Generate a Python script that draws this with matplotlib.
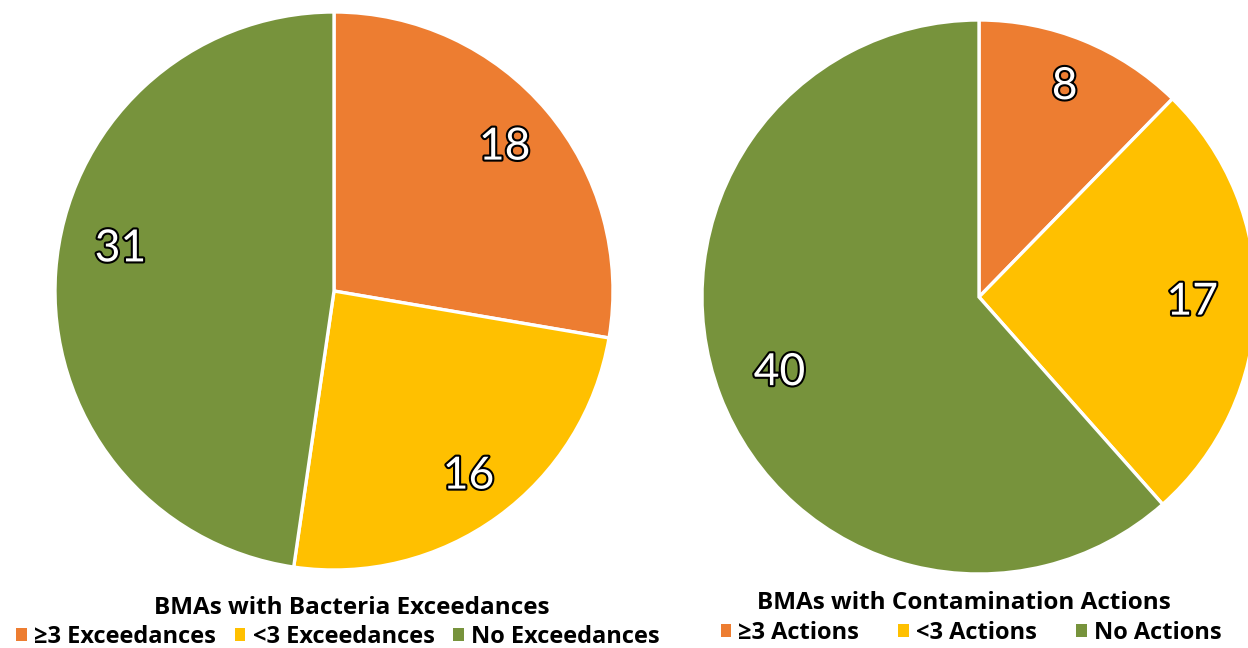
import matplotlib
matplotlib.use("Agg")
import numpy as np
import matplotlib.pyplot as plt
import matplotlib.patheffects as pe
from matplotlib.patches import Patch

plt.rcParams['font.family'] = ['Open Sans', 'DejaVu Sans']

colors = ['#ED7D31', '#FFC000', '#77933C']

left_labels = ['≥3 Exceedances', '<3 Exceedances', 'No Exceedances']
left_values = [18, 16, 31]
left_title = 'BMAs with Bacteria Exceedances'

right_labels = ['≥3 Actions', '<3 Actions', 'No Actions']
right_values = [8, 17, 40]
right_title = 'BMAs with Contamination Actions'

W, H = 1248, 648
fig = plt.figure(figsize=(W / 100, H / 100), dpi=100)


def add_pie(cx, cy, r, values, dists, rotate):
    ax = fig.add_axes([(cx - r) / W, (H - cy - r) / H, 2 * r / W, 2 * r / H])
    wedges, texts = ax.pie(values, colors=colors, startangle=90, counterclock=False,
                           radius=1, labels=[str(v) for v in values],
                           labeldistance=0.8,
                           wedgeprops=dict(edgecolor='white', linewidth=2.4),
                           textprops=dict(color='white', fontsize=32,
                                          ha='center', va='center',
                                          family=['Lato', 'DejaVu Sans']))
    for w, t, d, rot in zip(wedges, texts, dists, rotate):
        ang = np.deg2rad((w.theta1 + w.theta2) / 2 + rot)
        t.set_position((d * np.cos(ang), d * np.sin(ang)))
        t.set_ha('center')
        t.set_va('center')
        t.set_path_effects([pe.Stroke(linewidth=3, foreground='black'), pe.Normal()])
    ax.set_xlim(-1, 1)
    ax.set_ylim(-1, 1)
    ax.set_aspect('equal')
    ax.axis('off')
    return ax


add_pie(334, 291, 279, left_values, [0.80, 0.82, 0.78], [0, 0, -7])
add_pie(979, 297, 277, right_values, [0.82, 0.77, 0.77], [0, 0, 0])

fig.text(352 / W, 1 - 608 / H, left_title, ha='center', va='center',
         fontsize=17.5, fontweight='bold')
fig.text(964 / W, 1 - 603 / H, right_title, ha='center', va='center',
         fontsize=17.5, fontweight='bold')


def add_legend(labels, x, y, spacing):
    handles = [Patch(facecolor=c, edgecolor='none') for c in colors]
    leg = fig.legend(handles, labels, loc='center', bbox_to_anchor=(x / W, 1 - y / H),
                     ncol=3, frameon=False, handlelength=0.45, handleheight=0.45,
                     handletextpad=0.3, columnspacing=spacing,
                     prop=dict(size=17, weight='bold'), borderpad=0, borderaxespad=0)
    return leg


add_legend(left_labels, 338, 637, 0.8)
add_legend(right_labels, 971, 633, 1.65)

fig.savefig('out.png', dpi=100, facecolor='white')
